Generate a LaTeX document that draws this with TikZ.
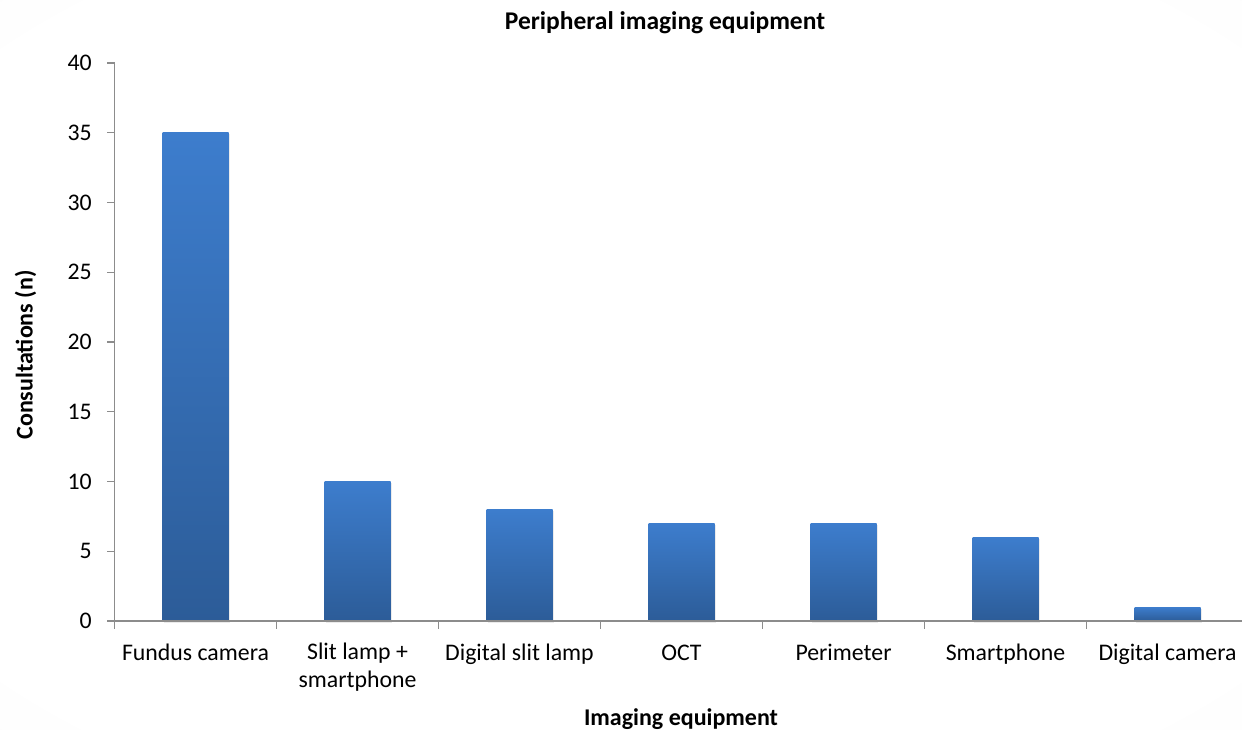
\documentclass[tikz,border=0pt]{standalone}
\usepackage{fontspec}
\setmainfont{Carlito}
\usetikzlibrary{shadows}
\definecolor{bartop}{HTML}{3D7DCD}
\definecolor{barbot}{HTML}{2C5C98}
\definecolor{axisgray}{HTML}{8C8C8C}
\pgfdeclareradialshading{vign}{\pgfpoint{0bp}{0bp}}{color(0bp)=(white); color(32bp)=(white); color(71bp)=(black!7)}
\begin{document}
\begin{tikzpicture}[x=1pt,y=-1pt,
  bar/.style={top color=bartop, bottom color=barbot, draw=none,
    drop shadow={shadow xshift=1.5pt, shadow yshift=-1.5pt, opacity=0.08, fill=black}},
  axisline/.style={draw=axisgray, line width=1.4pt},
  tickline/.style={draw=axisgray, line width=1.2pt},
  ticklab/.style={font=\fontsize{23.8}{28}\selectfont, text=black, inner sep=0pt},
  catlab/.style={font=\fontsize{23.8}{28}\selectfont, text=black, inner sep=0pt, align=center, anchor=base},
  titlelab/.style={font=\fontsize{24}{28}\selectfont\bfseries, text=black, inner sep=0pt, anchor=base}]
\useasboundingbox (0,0) rectangle (1242,730);
\shade[shading=vign] (0,0) rectangle (1242,730);
% bars
\foreach \k/\v in {0/35,1/10,2/8,3/7,4/7,5/6,6/1}{
  \path[bar] ({114.5+162*\k+81-33},621) rectangle ({114.5+162*\k+81+33},{621-\v*13.95});
}
% axes
\coordinate (origin) at (114.5,621);
\coordinate (ytop) at (114.5,63);
\coordinate (xend) at (1242,621);
\draw[axisline] (ytop) -- (origin) -- (xend);
\foreach \i in {0,...,8}{
  \draw[tickline] (107,{621-69.75*\i}) -- (114.5,{621-69.75*\i});
  \pgfmathtruncatemacro{\val}{5*\i}
  \node[ticklab, anchor=east] (yl\i) at (92,{621-69.75*\i}) {\val};
}
\foreach \k in {0,...,6}{
  \draw[tickline] ({114.5+162*\k},621) -- ({114.5+162*\k},628.5);
}
% category labels
\node[catlab] (c0) at (195.5,660) {Fundus camera};
\node[catlab, anchor=north] (c1) at (357.5,643) {Slit lamp +\\smartphone};
\node[catlab] (c2) at (519.5,660) {Digital slit lamp};
\node[catlab] (c3) at (681.5,660) {OCT};
\node[catlab] (c4) at (843.5,660) {Perimeter};
\node[catlab] (c5) at (1005.5,660) {Smartphone};
\node[catlab] (c6) at (1167.5,660) {Digital camera};
% titles
\node[titlelab, font=\fontsize{25.5}{30}\selectfont\bfseries] (title) at (665,30) {Peripheral imaging equipment};
\node[titlelab] (xtitle) at (681,725) {Imaging equipment};
\node[titlelab, rotate=90] (ytitle) at (32.5,355) {Consultations (n)};
\end{tikzpicture}
\end{document}
